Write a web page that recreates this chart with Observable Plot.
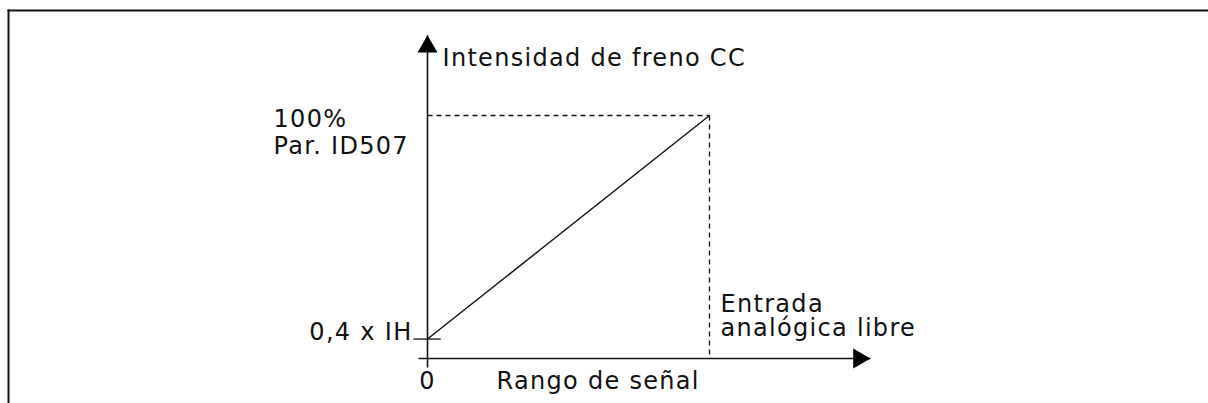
<!DOCTYPE html>
<html>
<head>
<meta charset="utf-8">
<script src="https://cdn.jsdelivr.net/npm/d3@7"></script>
<script src="https://cdn.jsdelivr.net/npm/@observablehq/plot@0.6"></script>
<style>
  html, body { margin: 0; padding: 0; background: #fff; }
  #chart svg { display: block; }
  #chart text { letter-spacing: 1.3px; }
</style>
</head>
<body>
<div id="chart"></div>
<script>
// Signal range (x) and DC brake current (y, % of Par. ID507)
const signalRange = [0, 1];          // 0 .. full signal
const brakeCurrent = [8, 100];       // 0,4 x IH .. 100 %
// Axis extents (arrows)
const axisX = [-0.032, 1.571];
const axisY = [-3.7, 133];
const tickHalf = [-0.05, 0.047];

// Labels
const yTitle = "Intensidad de freno CC";
const yMaxLabel = "100%\nPar. ID507";
const yMinLabel = "0,4 x IH";
const xZeroLabel = "0";
const xTitle = "Rango de señal";
const xMaxLabel = "Entrada\nanalógica libre";

const ink = "#111";
const font = "DejaVu Sans, Verdana, sans-serif";
const fs = 24;

const lineData = [{x1: signalRange[0], y1: brakeCurrent[0], x2: signalRange[1], y2: brakeCurrent[1]}];
const dashData = [
  {x1: signalRange[0], y1: brakeCurrent[1], x2: signalRange[1], y2: brakeCurrent[1]},
  {x1: signalRange[1], y1: brakeCurrent[1], x2: signalRange[1], y2: 0}
];
const axesData = [
  {x1: axisX[0], y1: 0, x2: axisX[1], y2: 0},
  {x1: 0, y1: axisY[0], x2: 0, y2: axisY[1]}
];
const tickData = [{x1: tickHalf[0], y1: brakeCurrent[0], x2: tickHalf[1], y2: brakeCurrent[0]}];

const chart = Plot.plot({
  width: 1208,
  height: 403,
  margin: 0,
  x: {domain: [0, 1], range: [427, 709], axis: null},
  y: {domain: [0, 100], range: [358, 115], axis: null},
  style: {background: "#fff", overflow: "visible"},
  marks: [
    Plot.frame({anchor: "top", insetLeft: 8, insetTop: 10, stroke: ink, strokeWidth: 2}),
    Plot.frame({anchor: "left", insetLeft: 8, insetTop: 10, stroke: ink, strokeWidth: 2}),
    Plot.link(dashData, {x1: "x1", y1: "y1", x2: "x2", y2: "y2", stroke: ink, strokeWidth: 1.3, strokeDasharray: "5,4"}),
    Plot.link(axesData, {x1: "x1", y1: "y1", x2: "x2", y2: "y2", stroke: ink, strokeWidth: 1.6}),
    Plot.link(tickData, {x1: "x1", y1: "y1", x2: "x2", y2: "y2", stroke: ink, strokeWidth: 1.3}),
    Plot.link(lineData, {x1: "x1", y1: "y1", x2: "x2", y2: "y2", stroke: ink, strokeWidth: 1.4}),
    // arrow heads
    Plot.dot([{x: 0, y: axisY[1]}], {x: "x", y: "y", symbol: "triangle", r: 7.42, fill: "#000", stroke: "none", dy: 11.54}),
    Plot.dot([{x: axisX[1], y: 0}], {x: "x", y: "y", symbol: "triangle", r: 7.42, fill: "#000", stroke: "none", rotate: 90, dx: -11.54}),
    // labels
    Plot.text([yTitle], {x: () => 0, y: () => brakeCurrent[1], text: d => d, textAnchor: "start", lineAnchor: "bottom", dx: 15, dy: -50, fontSize: fs, fontFamily: font, fill: ink}),
    Plot.text([yMaxLabel], {x: () => 0, y: () => brakeCurrent[1], text: d => d, textAnchor: "start", lineAnchor: "bottom", lineHeight: 1.12, dx: -154, dy: 38, fontSize: fs, fontFamily: font, fill: ink}),
    Plot.text([yMinLabel], {x: () => 0, y: () => brakeCurrent[0], text: d => d, textAnchor: "end", lineAnchor: "bottom", dx: -15, dy: 1, fontSize: fs, fontFamily: font, fill: ink}),
    Plot.text([xZeroLabel], {x: () => 0, y: () => 0, text: d => d, textAnchor: "middle", lineAnchor: "bottom", dy: 30, fontSize: fs, fontFamily: font, fill: ink}),
    Plot.text([xTitle], {x: () => 0, y: () => 0, text: d => d, textAnchor: "start", lineAnchor: "bottom", dx: 69, dy: 30, fontSize: fs, fontFamily: font, fill: ink}),
    Plot.text([xMaxLabel], {x: () => signalRange[1], y: () => 0, text: d => d, textAnchor: "start", lineAnchor: "bottom", lineHeight: 1.0, dx: 11, dy: -23, fontSize: fs, fontFamily: font, fill: ink})
  ]
});
document.getElementById("chart").appendChild(chart);
</script>
</body>
</html>
